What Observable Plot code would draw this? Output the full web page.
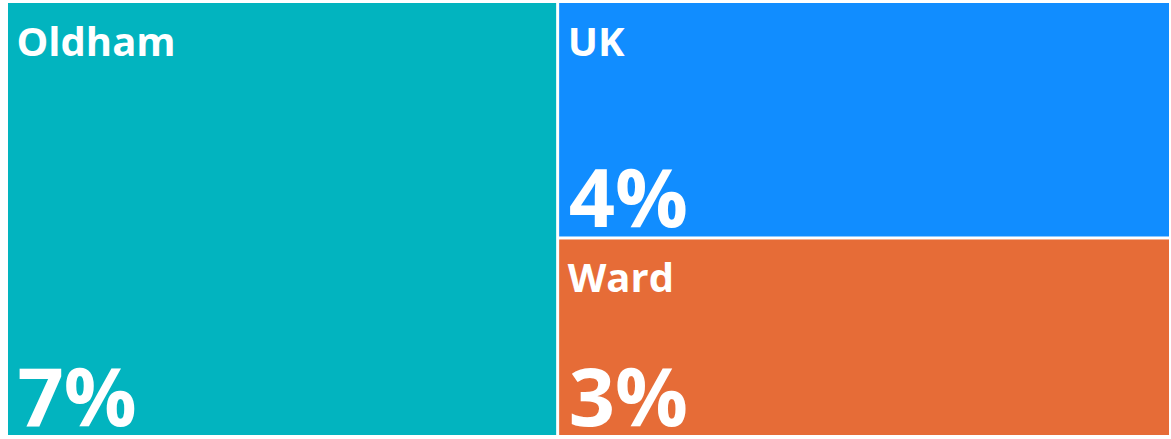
<!DOCTYPE html>
<html>
<head>
<meta charset="utf-8">
<script src="https://cdn.jsdelivr.net/npm/d3@7"></script>
<script src="https://cdn.jsdelivr.net/npm/@observablehq/plot@0.6"></script>
<style>
  html, body { margin: 0; padding: 0; background: #fff; }
  #chart svg { display: block; }
</style>
</head>
<body>
<div id="chart"></div>
<script>
// Data (areas of the tiles)
const categories = ["Oldham", "UK", "Ward"];
const values = [6.7, 4.05, 3.4];
const colors = ["#02B4BF", "#118DFF", "#E66C37"];

const W = 1161, H = 432;

// Layout: first tile takes a full-height column; the rest stack in the remaining column
const rootData = {
  name: "root",
  children: [
    {name: categories[0], value: values[0], color: colors[0]},
    {name: "rest", children: categories.slice(1).map((c, i) => ({name: c, value: values[i + 1], color: colors[i + 1]}))}
  ]
};
const root = d3.hierarchy(rootData).sum(d => d.value || 0);
d3.treemap().size([W, H]).paddingInner(3).tile(d3.treemapSliceDice)(root);
const tiles = root.leaves().map(n => ({
  name: n.data.name, value: n.data.value, color: n.data.color,
  x0: n.x0, x1: n.x1, y0: n.y0, y1: n.y1
}));

const fontFamily = "'Open Sans', 'Noto Sans', 'DejaVu Sans', sans-serif";

const chart = Plot.plot({
  width: 1171,
  height: 439,
  marginLeft: 8,
  marginRight: 2,
  marginTop: 3,
  marginBottom: 4,
  x: {domain: [0, W], axis: null},
  y: {domain: [0, H], reverse: true, axis: null},
  style: {fontFamily, background: "#fff"},
  marks: [
    Plot.rect(tiles, {x1: "x0", x2: "x1", y1: "y0", y2: "y1", fill: d => d.color}),
    Plot.text(tiles, {
      x: d => d.x0 + 8, y: d => d.y0 + 52,
      text: "name", textAnchor: "start", lineAnchor: "bottom",
      fill: "white", fontSize: 40, fontWeight: 700
    }),
    Plot.text(tiles, {
      x: d => d.x0 + 9, y: d => d.y1 - 10,
      text: d => Math.round(d.value) + "%", textAnchor: "start", lineAnchor: "bottom",
      fill: "white", fontSize: 81, fontWeight: 700
    })
  ]
});
document.getElementById("chart").appendChild(chart);
</script>
</body>
</html>
